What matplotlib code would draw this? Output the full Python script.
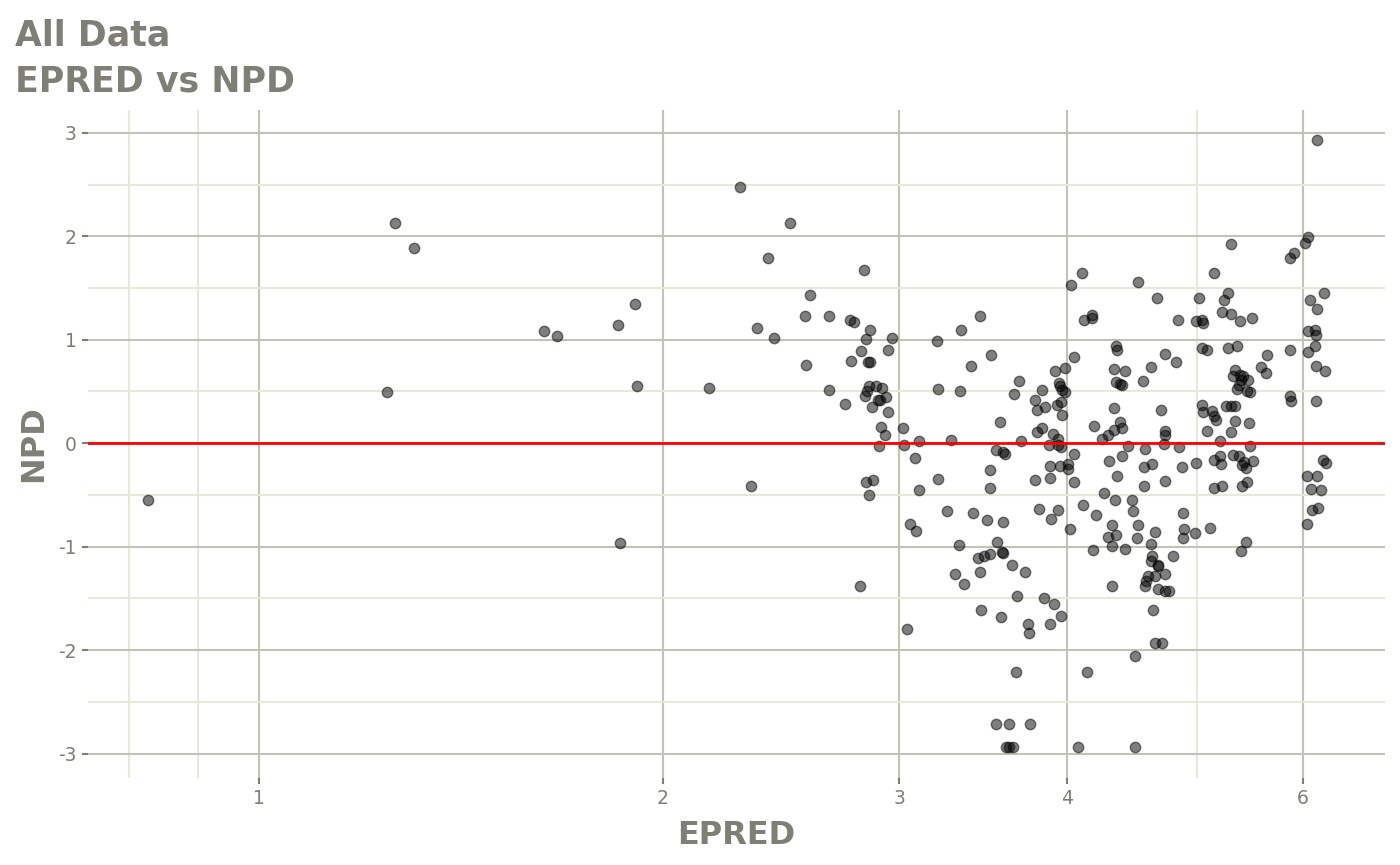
import matplotlib
matplotlib.use("Agg")
import matplotlib.pyplot as plt
from matplotlib.ticker import FixedLocator, NullFormatter

# EPRED / NPD pairs
epred = [
    0.826, 1.263, 1.304, 1.245, 1.632, 1.669, 1.851, 1.908, 1.913, 1.857,
    2.283, 2.486, 2.395, 2.826, 2.575, 2.552, 2.659, 2.757, 2.776, 2.853,
    2.352, 2.418, 2.835, 2.962, 3.202, 3.335, 3.447, 2.942, 2.81, 2.762,
    2.845, 2.853, 2.556, 3.394, 3.51, 2.164, 2.658, 2.732,
    2.849, 2.885, 2.915, 2.838, 2.83, 2.894, 2.905, 2.932, 2.864, 2.942,
    3.207, 3.332, 2.909, 2.928, 3.022, 3.106, 3.277, 2.896, 3.027, 3.564,
    3.686, 3.655, 3.831, 3.787, 3.798, 3.855, 3.835, 3.798, 3.697,
    3.542, 3.586, 3.596, 3.876, 3.883, 3.883, 3.083, 3.207, 3.504, 3.504,
    3.784, 3.813, 3.89, 2.328, 2.832, 2.867, 2.849, 3.104, 3.254, 3.406,
    3.49, 3.583, 3.058, 3.09, 3.323, 3.55, 3.58, 3.586, 3.436, 3.472,
    3.506, 3.64, 3.725, 3.304, 3.444, 3.35, 2.803, 3.67, 3.848, 3.45,
    3.57, 3.74, 3.746, 3.883, 3.04, 3.668, 3.542, 3.62, 3.758, 3.606,
    3.625, 3.645,
    4.102, 4.028, 4.521, 5.15, 4.666, 5.02, 4.119, 4.178, 4.178, 4.839,
    4.99, 5.04, 5.05, 4.35, 4.36, 4.05, 4.73, 4.82, 5.04, 5.09,
    3.92, 3.985, 4.34, 4.42, 4.62, 4.56, 4.35, 4.38, 4.40, 3.945,
    3.955, 3.97, 3.99, 3.93, 3.96, 3.965, 4.34, 4.705, 5.04, 5.055,
    5.13, 5.15, 5.165, 5.09, 4.19, 4.385, 4.40, 4.34, 4.295, 4.245,
    4.73, 4.73, 3.905, 3.94,
    3.94, 3.96, 4.44, 4.575, 4.725, 4.85, 4.05, 4.40, 4.30, 3.955,
    4.01, 4.01, 4.57, 4.63, 4.87, 4.995, 5.15, 4.05, 4.36, 4.57,
    4.735, 5.15, 4.265, 4.345, 4.47, 4.48, 4.11, 4.205, 3.94, 4.02,
    4.32, 4.295, 4.355, 4.32, 4.52, 4.51, 4.65, 4.625, 4.42, 4.18,
    4.88, 4.89, 4.88, 4.985, 5.115, 4.80, 4.63, 4.625, 4.675, 4.68,
    4.73, 4.65, 4.60, 4.585, 4.575, 4.675, 4.735, 4.77, 4.32, 3.915,
    3.96, 4.64, 4.65, 4.71, 4.495, 4.14, 4.08, 4.495,
    6.145, 6.048, 6.015, 5.905, 5.865, 5.3, 5.275, 5.24, 5.22, 5.305,
    5.385, 5.495, 6.22, 6.07, 6.145, 6.055, 6.125, 6.13, 6.12, 6.045,
    5.865, 5.275, 5.355, 5.64, 5.58, 5.63, 6.13, 6.23,
    5.335, 5.32, 5.385, 5.41, 5.39, 5.455, 5.37, 5.36, 5.445, 5.475,
    5.87, 5.88, 6.135, 5.26, 5.305, 5.34, 5.335, 5.47, 5.305, 5.20,
    5.48,
    5.2, 5.21, 5.315, 5.37, 5.40, 5.42, 5.44, 5.505, 5.22, 5.40,
    5.45, 5.44, 5.395, 6.21, 6.245, 6.035, 6.145, 6.085, 6.19, 6.09,
    6.15, 6.04,
]
npd = [
    -0.55, 2.128, 1.885, 0.499, 1.084, 1.037, 1.145, 1.347, 0.556, -0.967,
    2.475, 2.127, 1.789, 1.676, 1.428, 1.225, 1.225, 1.193, 1.174, 1.097,
    1.109, 1.019, 1.007, 1.019, 0.984, 1.097, 1.225, 0.903, 0.894, 0.797,
    0.784, 0.784, 0.758, 0.749, 0.852, 0.533, 0.517, 0.379,
    0.556, 0.549, 0.533, 0.5, 0.452, 0.42, 0.414, 0.446, 0.346, 0.301,
    0.524, 0.507, 0.157, 0.079, 0.143, 0.021, 0.034, -0.024, -0.014, 0.201,
    0.604, 0.475, 0.517, 0.42, 0.324, 0.35, 0.147, 0.104, 0.024,
    -0.07, -0.089, -0.105, -0.014, -0.217, -0.337, -0.143, -0.343, -0.263, -0.433,
    -0.353, -0.633, -0.73, -0.411, -0.379, -0.353, -0.504, -0.456, -0.652, -0.671,
    -0.739, -0.758, -0.781, -0.852, -0.981, -0.955, -1.055, -1.061, -1.109, -1.087,
    -1.068, -1.174, -1.245, -1.264, -1.245, -1.358, -1.383, -1.473, -1.5, -1.615,
    -1.68, -1.747, -1.834, -1.747, -1.792, -2.214, -2.71, -2.71, -2.71, -2.935,
    -2.935, -2.935,
    1.644, 1.525, 1.554, 1.644, 1.403, 1.403, 1.193, 1.241, 1.21, 1.193,
    1.177, 1.193, 1.161, 0.935, 0.903, 0.833, 0.865, 0.784, 0.92, 0.903,
    0.70, 0.723, 0.72, 0.70, 0.733, 0.604, 0.588, 0.575, 0.562, 0.582,
    0.549, 0.517, 0.491, 0.365, 0.398, 0.269, 0.34, 0.324, 0.372, 0.298,
    0.307, 0.259, 0.227, 0.121, 0.169, 0.201, 0.147, 0.13, 0.082, 0.043,
    0.121, 0.082, 0.089, 0.04,
    -0.014, -0.037, -0.024, -0.056, -0.005, -0.037, -0.101, -0.121, -0.169, -0.217,
    -0.198, -0.249, -0.234, -0.201, -0.234, -0.191, -0.166, -0.375, -0.314, -0.411,
    -0.369, -0.433, -0.481, -0.553, -0.546, -0.659, -0.601, -0.698, -0.649, -0.829,
    -0.794, -0.906, -0.891, -0.997, -0.794, -0.916, -0.862, -0.971, -1.019, -1.036,
    -0.675, -0.826, -0.916, -0.868, -0.82, -1.094, -1.094, -1.142, -1.181, -1.185,
    -1.261, -1.287, -1.287, -1.335, -1.377, -1.406, -1.432, -1.432, -1.383, -1.554,
    -1.673, -1.615, -1.931, -1.931, -2.053, -2.214, -2.935, -2.935,
    2.932, 1.992, 1.934, 1.838, 1.789, 1.928, 1.451, 1.38, 1.264, 1.248,
    1.177, 1.21, 1.451, 1.38, 1.30, 1.08, 1.097, 1.048, 0.935, 0.877,
    0.903, 0.916, 0.942, 0.855, 0.733, 0.678, 0.742, 0.694,
    0.71, 0.646, 0.662, 0.652, 0.614, 0.607, 0.565, 0.524, 0.5, 0.491,
    0.452, 0.404, 0.404, 0.362, 0.362, 0.362, 0.217, 0.195, 0.108, 0.017,
    -0.024,
    -0.128, -0.201, -0.111, -0.128, -0.208, -0.186, -0.24, -0.169, -0.417, -0.417,
    -0.379, -0.955, -1.039, -0.159, -0.191, -0.314, -0.314, -0.44, -0.449, -0.643,
    -0.623, -0.785,
]

x_ticks = [1, 2, 3, 4, 6]
x_minor = [0.8, 0.9, 5]
y_ticks = [-3, -2, -1, 0, 1, 2, 3]
y_minor = [-2.5, -1.5, -0.5, 0.5, 1.5, 2.5]

text_col = "#7f7f75"
major_col = "#c2c2b6"
minor_col = "#e8e8da"

fig = plt.figure(figsize=(14, 8.65), dpi=100)
ax = fig.add_axes([0.063, 0.101, 0.926, 0.772])

ax.set_xscale("log")
ax.set_xlim(0.746, 6.9)
ax.set_ylim(-3.232, 3.222)

ax.xaxis.set_major_locator(FixedLocator(x_ticks))
ax.xaxis.set_minor_locator(FixedLocator(x_minor))
ax.set_xticklabels([str(t) for t in x_ticks])
ax.xaxis.set_minor_formatter(NullFormatter())
ax.yaxis.set_major_locator(FixedLocator(y_ticks))
ax.yaxis.set_minor_locator(FixedLocator(y_minor))
ax.set_yticklabels([str(t) for t in y_ticks])

ax.grid(which="major", color=major_col, linewidth=1.5)
ax.grid(which="minor", color=minor_col, linewidth=1.5)
ax.set_axisbelow(True)
for s in ax.spines.values():
    s.set_visible(False)

ax.tick_params(which="major", length=4.5, width=1.5, color=text_col,
               labelcolor=text_col, labelsize=13.5, pad=4)
ax.tick_params(which="minor", length=0)

ax.scatter(epred, npd, s=56, facecolor="black", edgecolor="black",
           linewidth=1.0, alpha=0.5, zorder=3)
ax.axhline(0, color="red", linewidth=2.0, zorder=4)

ax.set_xlabel("EPRED", fontsize=23, fontweight="bold", color=text_col, labelpad=8)
ax.set_ylabel("NPD", fontsize=23, fontweight="bold", color=text_col, labelpad=6)

fig.text(0.011, 1 - 45 / 865, "All Data", fontsize=25, fontweight="bold",
         color=text_col, va="baseline", ha="left")
fig.text(0.011, 1 - 92 / 865, "EPRED vs NPD", fontsize=25, fontweight="bold",
         color=text_col, va="baseline", ha="left")

fig.savefig("out.png", dpi=100)
